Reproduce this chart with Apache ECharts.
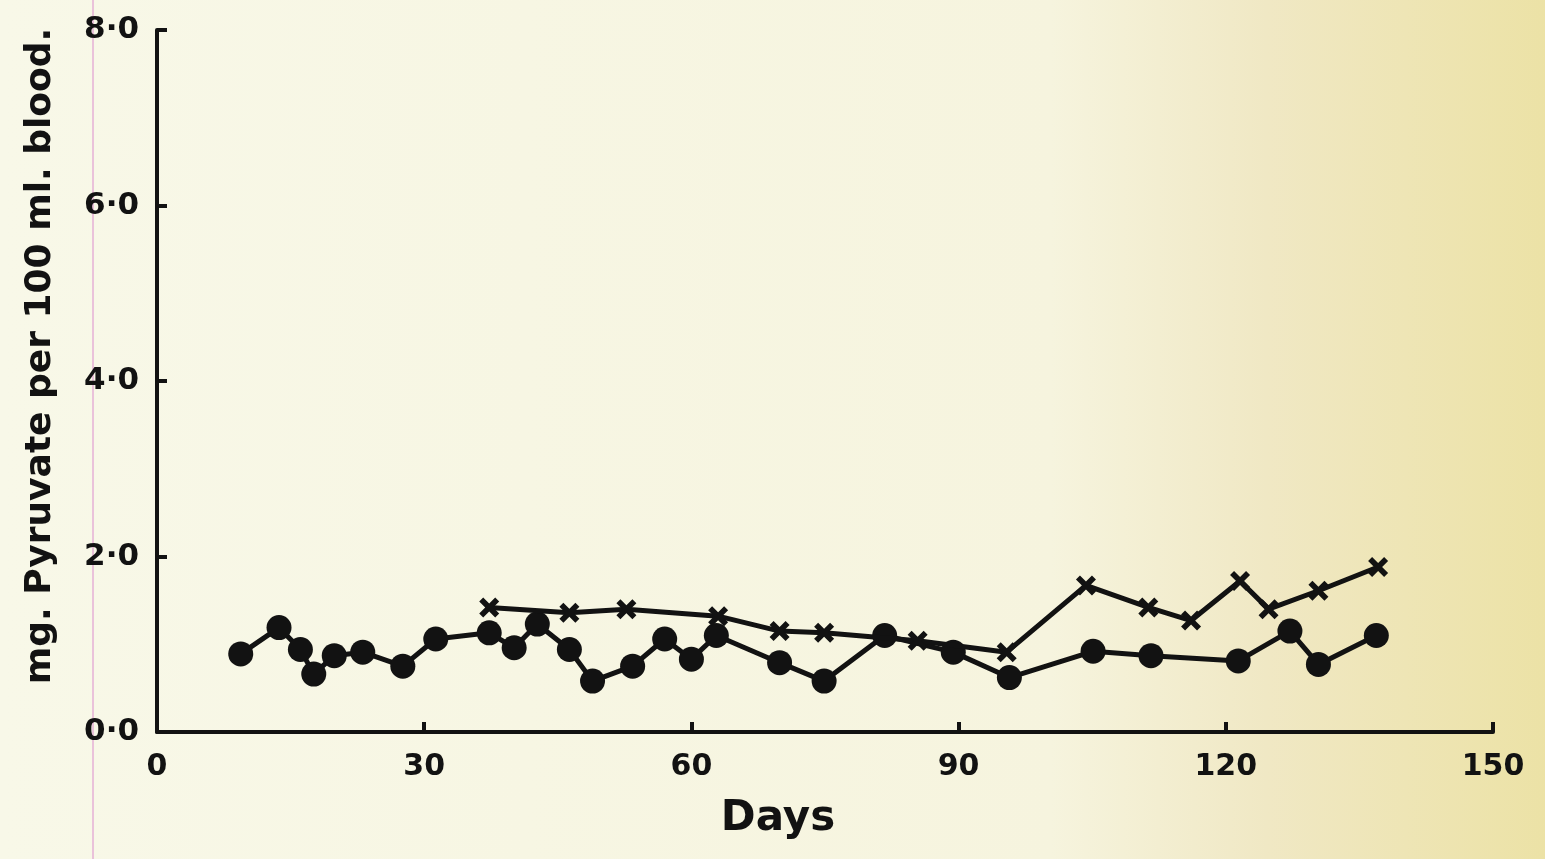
<!DOCTYPE html>
<html>
<head>
<meta charset="utf-8">
<script src="https://cdn.jsdelivr.net/npm/echarts@6/dist/echarts.min.js"></script>
<style>
html,body{margin:0;padding:0;width:1545px;height:859px;overflow:hidden;}
#chart{width:1545px;height:859px;}
</style>
</head>
<body>
<div id="chart"></div>
<script>
// Days (x) and mg. pyruvate per 100 ml blood (y)
var dotDays   = [9.4, 13.7, 16.1, 17.6, 19.9, 23.1, 27.6, 31.3, 37.3, 40.1, 42.7, 46.3, 48.9, 53.4, 57.0, 60.0, 62.8, 69.9, 74.9, 81.7, 89.4, 95.7, 105.1, 111.6, 121.4, 127.2, 130.4, 136.9];
var dotValues = [0.89, 1.19, 0.94, 0.66, 0.87, 0.91, 0.75, 1.06, 1.13, 0.96, 1.23, 0.94, 0.58, 0.75, 1.06, 0.83, 1.10, 0.79, 0.58, 1.10, 0.91, 0.62, 0.92, 0.87, 0.81, 1.15, 0.77, 1.10];
var crossDays   = [37.3, 46.3, 52.7, 63.0, 69.9, 74.9, 85.4, 95.4, 104.3, 111.3, 116.1, 121.6, 124.8, 130.4, 137.1];
var crossValues = [1.42, 1.36, 1.40, 1.32, 1.15, 1.13, 1.04, 0.91, 1.67, 1.42, 1.27, 1.72, 1.40, 1.61, 1.88];
var xTicks = [0, 30, 60, 90, 120, 150];
var yTicks = [0, 2, 4, 6, 8];

function pairs(xs, ys){ return xs.map(function(x,i){ return [x, ys[i]]; }); }

var ink = '#121212';
var fontFam = '"DejaVu Sans", "Noto Sans", sans-serif';
var crossPath = 'path://M2,0 L5,3 L8,0 L10,2 L7,5 L10,8 L8,10 L5,7 L2,10 L0,8 L3,5 L0,2 Z';

var chart = echarts.init(document.getElementById('chart'));
chart.setOption({
  animation: false,
  backgroundColor: {
    type: 'linear', x: 0, y: 0, x2: 1, y2: 0,
    colorStops: [
      {offset: 0, color: '#f8f8e8'},
      {offset: 0.68, color: '#f6f4de'},
      {offset: 0.82, color: '#f0e8c4'},
      {offset: 1, color: '#ece2a6'}
    ]
  },
  grid: {left: 157, right: 52, top: 30, bottom: 127},
  xAxis: {
    type: 'value', min: 0, max: 150, interval: 30,
    name: 'Days', nameLocation: 'middle', nameGap: 66,
    nameTextStyle: {color: ink, fontFamily: fontFam, fontWeight: 'bold', fontSize: 42, padding: [0, 94, 0, 0]},
    axisLine: {show: true, lineStyle: {color: ink, width: 4}},
    axisTick: {show: true, inside: true, length: 10, lineStyle: {color: ink, width: 4}},
    axisLabel: {color: ink, fontFamily: fontFam, fontWeight: 'bold', fontSize: 30, margin: 20,
      formatter: function(v){ return xTicks.indexOf(v) >= 0 ? String(v) : ''; }},
    splitLine: {show: false}
  },
  yAxis: {
    type: 'value', min: 0, max: 8, interval: 2,
    name: 'mg. Pyruvate per 100 ml. blood.', nameLocation: 'middle', nameGap: 98, nameRotate: 90,
    nameTextStyle: {color: ink, fontFamily: fontFam, fontWeight: 'bold', fontSize: 36, padding: [0, 0, 0, 50]},
    axisLine: {show: true, lineStyle: {color: ink, width: 4}},
    axisTick: {show: true, inside: true, length: 10, lineStyle: {color: ink, width: 4}},
    axisLabel: {color: ink, fontFamily: fontFam, fontWeight: 'bold', fontSize: 31, margin: 18,
      formatter: function(v){ return yTicks.indexOf(v) >= 0 ? v.toFixed(1).replace('.', '·') : ''; }},
    splitLine: {show: false}
  },
  series: [
    {
      type: 'line', name: 'dots', data: pairs(dotDays, dotValues),
      symbol: 'circle', symbolSize: 25,
      lineStyle: {color: ink, width: 5},
      itemStyle: {color: ink},
      z: 3
    },
    {
      type: 'line', name: 'crosses', data: pairs(crossDays, crossValues),
      symbol: crossPath, symbolSize: 20,
      lineStyle: {color: ink, width: 5},
      itemStyle: {color: ink},
      z: 4
    }
  ],
  graphic: [
    {type: 'line', shape: {x1: 93, y1: 0, x2: 93, y2: 859}, style: {stroke: '#e6b0d6', lineWidth: 1.5}, silent: true, z: -1}
  ]
});
</script>
</body>
</html>
